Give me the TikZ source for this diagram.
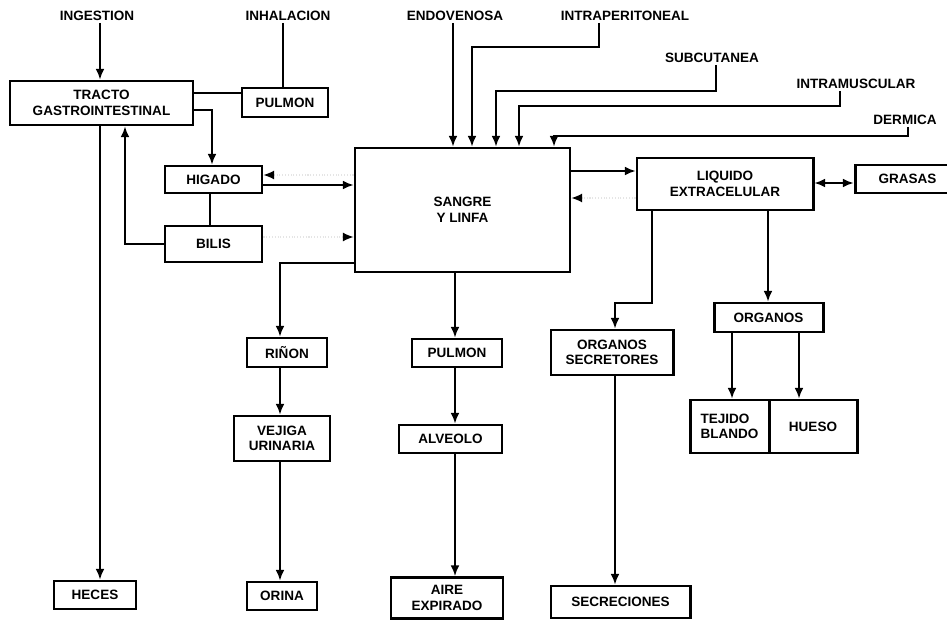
\documentclass[tikz,border=0pt]{standalone}
\usepackage{fontspec}
\setmainfont{Liberation Sans}
\usetikzlibrary{arrows.meta}

\begin{document}
\begin{tikzpicture}[x=0.02cm,y=-0.02cm,
  font=\fontsize{7.7}{8.8}\selectfont\bfseries,
  box/.style={draw, line width=1.7pt, rectangle, inner sep=0pt, align=center},
  sz/.style 2 args={minimum width=#1*0.02cm, minimum height=#2*0.02cm},
  lbl/.style={inner sep=1pt},
  wire/.style={line width=1pt},
  tip/.tip={Latex[length=6pt,width=5pt]},
  arr/.style={wire, -tip},
  dbl/.style={wire, tip-tip},
  ghost/.style={line width=0.6pt, draw=black!10, densely dotted, -{Latex[length=6pt,width=5pt,black]}}
]
\useasboundingbox (0,0) rectangle (947,622);
\clip (0,0) rectangle (947,622);

% ---- entry routes (labels) ----
\node[lbl] (ingestion)       at (97,16)  {INGESTION};
\node[lbl] (inhalacion)      at (288,16) {INHALACION};
\node[lbl] (endovenosa)      at (455,16) {ENDOVENOSA};
\node[lbl] (intraperitoneal) at (625,16) {INTRAPERITONEAL};
\node[lbl] (subcutanea)      at (712,58) {SUBCUTANEA};
\node[lbl] (intramuscular)   at (856,84) {INTRAMUSCULAR};
\node[lbl] (dermica)         at (905,120) {DERMICA};

% ---- boxes ----
\node[box, sz={183}{44}]  (tracto)  at (101.5,103) {TRACTO\\GASTROINTESTINAL};
\node[box, sz={86}{29}]   (pulmonA) at (285,102.5) {PULMON};
\node[box, sz={97}{27}]   (higado)  at (213.5,179.5) {HIGADO};
\node[box, sz={97}{36}]   (bilis)   at (213.5,244) {BILIS};
\node[box, sz={215}{124}] (sangre)  at (462.5,210) {SANGRE\\Y LINFA};
\node[box, sz={176}{52}]  (liquido) at (725,184) {LIQUIDO\\EXTRACELULAR};
\node[box, sz={105}{28}]  (grasas)  at (907.5,179) {GRASAS};
\node[box, sz={122}{45}]  (orgsec)  at (612,352.5) {ORGANOS\\SECRETORES};
\node[box, sz={139}{32}]  (secreciones) at (620.5,602) {SECRECIONES};
\node[box, sz={109}{29}]  (organos) at (768.5,317.5) {ORGANOS};
\node[box, sz={79}{53}, align=left] (tejido) at (729.5,426.5) {TEJIDO\\BLANDO};
\node[box, sz={88}{53}]   (hueso)   at (813,426.5) {HUESO};
\node[box, sz={80}{29}]   (rinon)   at (287,352.5) {RIÑON};
\node[box, sz={96}{45}]   (vejiga)  at (282,438.5) {VEJIGA\\URINARIA};
\node[box, sz={70}{28}]   (orina)   at (282,596) {ORINA};
\node[box, sz={90}{28}]   (pulmonB) at (457,353) {PULMON};
\node[box, sz={103}{28}]  (alveolo) at (450.5,439) {ALVEOLO};
\node[box, sz={112}{41}]  (aire)    at (447,598) {AIRE\\EXPIRADO};
\node[box, sz={82}{28}]   (heces)   at (95,595) {HECES};

% ---- digestive and respiratory entry ----
\draw[arr]  (100,0 |- ingestion.south) -- (100,0 |- tracto.north);
\draw[wire] (283,0 |- inhalacion.south) -- (283,0 |- pulmonA.north);
\draw[wire] (tracto.east |- 0,93) -- (pulmonA.west |- 0,93);
\draw[arr]  (tracto.east |- 0,110) -| (212,0 |- higado.north);
\draw[arr]  (100,0 |- tracto.south) -- (100,0 |- heces.north);
\draw[arr]  (bilis.west) -| (125,0 |- tracto.south);
\draw[wire] (210,0 |- higado.south) -- (210,0 |- bilis.north);

% ---- liver and bile exchange with blood ----
\draw[arr]   (higado.east |- 0,185) -- (sangre.west |- 0,185);
\draw[ghost] (sangre.west |- 0,175) -- (higado.east |- 0,175);
\draw[ghost] (bilis.east |- 0,237) -- (sangre.west |- 0,237);

% ---- parenteral routes into blood ----
\draw[arr] (453,0 |- endovenosa.south) -- (453,0 |- sangre.north);
\draw[arr] (599,0 |- intraperitoneal.south) |- (472,47) -- (472,0 |- sangre.north);
\draw[arr] (716,0 |- subcutanea.south) |- (496,91) -- (496,0 |- sangre.north);
\draw[arr] (840,0 |- intramuscular.south) |- (519,106) -- (519,0 |- sangre.north);
\draw[arr] (908,0 |- dermica.south) |- (554,136) -- (554,0 |- sangre.north);

% ---- blood and extracellular fluid ----
\draw[arr]   (sangre.east |- 0,171) -- (liquido.west |- 0,171);
\draw[ghost] (liquido.west |- 0,198) -- (sangre.east |- 0,198);
\draw[dbl]   (liquido.east |- 0,183) -- (grasas.west |- 0,183);

% ---- distribution to organs ----
\draw[arr] (652,0 |- liquido.south) |- (615,303) -- (615,0 |- orgsec.north);
\draw[arr] (615,0 |- orgsec.south) -- (615,0 |- secreciones.north);
\draw[arr] (768,0 |- liquido.south) -- (768,0 |- organos.north);
\draw[arr] (732,0 |- organos.south) -- (732,0 |- tejido.north);
\draw[arr] (799,0 |- organos.south) -- (799,0 |- hueso.north);

% ---- urinary excretion ----
\draw[arr] (sangre.west |- 0,263) -| (280,0 |- rinon.north);
\draw[arr] (280,0 |- rinon.south) -- (280,0 |- vejiga.north);
\draw[arr] (280,0 |- vejiga.south) -- (280,0 |- orina.north);

% ---- pulmonary excretion ----
\draw[arr] (455,0 |- sangre.south) -- (455,0 |- pulmonB.north);
\draw[arr] (455,0 |- pulmonB.south) -- (455,0 |- alveolo.north);
\draw[arr] (455,0 |- alveolo.south) -- (455,0 |- aire.north);
\end{tikzpicture}
\end{document}
